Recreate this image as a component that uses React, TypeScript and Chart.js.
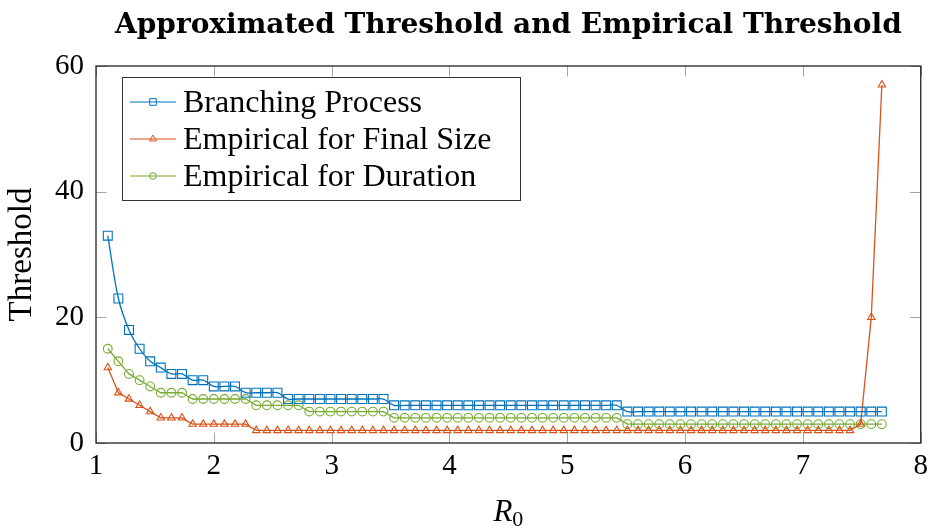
import React, { useEffect, useRef } from 'react';
import { Chart, registerables } from 'chart.js';

Chart.register(...registerables);

// R0 values (x)
const R0 = [
  1.10, 1.19, 1.28, 1.37, 1.46, 1.55, 1.64, 1.73, 1.82, 1.91,
  2.00, 2.09, 2.18, 2.27, 2.36, 2.45, 2.54, 2.63, 2.72, 2.81,
  2.90, 2.99, 3.08, 3.17, 3.26, 3.35, 3.44, 3.53, 3.62, 3.71,
  3.80, 3.89, 3.98, 4.07, 4.16, 4.25, 4.34, 4.43, 4.52, 4.61,
  4.70, 4.79, 4.88, 4.97, 5.06, 5.15, 5.24, 5.33, 5.42, 5.51,
  5.60, 5.69, 5.78, 5.87, 5.96, 6.05, 6.14, 6.23, 6.32, 6.41,
  6.50, 6.59, 6.68, 6.77, 6.86, 6.95, 7.04, 7.13, 7.22, 7.31,
  7.40, 7.49, 7.58, 7.67,
];

const branchingProcess = [
  33, 23, 18, 15, 13, 12, 11, 11, 10, 10,
  9, 9, 9, 8, 8, 8, 8, 7, 7, 7,
  7, 7, 7, 7, 7, 7, 7, 6, 6, 6,
  6, 6, 6, 6, 6, 6, 6, 6, 6, 6,
  6, 6, 6, 6, 6, 6, 6, 6, 6, 5,
  5, 5, 5, 5, 5, 5, 5, 5, 5, 5,
  5, 5, 5, 5, 5, 5, 5, 5, 5, 5,
  5, 5, 5, 5,
];

const empiricalFinalSize = [
  12, 8, 7, 6, 5, 4, 4, 4, 3, 3,
  3, 3, 3, 3, 2, 2, 2, 2, 2, 2,
  2, 2, 2, 2, 2, 2, 2, 2, 2, 2,
  2, 2, 2, 2, 2, 2, 2, 2, 2, 2,
  2, 2, 2, 2, 2, 2, 2, 2, 2, 2,
  2, 2, 2, 2, 2, 2, 2, 2, 2, 2,
  2, 2, 2, 2, 2, 2, 2, 2, 2, 2,
  2, 3, 20, 57,
];

const empiricalDuration = [
  15, 13, 11, 10, 9, 8, 8, 8, 7, 7,
  7, 7, 7, 7, 6, 6, 6, 6, 6, 5,
  5, 5, 5, 5, 5, 5, 5, 4, 4, 4,
  4, 4, 4, 4, 4, 4, 4, 4, 4, 4,
  4, 4, 4, 4, 4, 4, 4, 4, 4, 3,
  3, 3, 3, 3, 3, 3, 3, 3, 3, 3,
  3, 3, 3, 3, 3, 3, 3, 3, 3, 3,
  3, 3, 3, 3,
];

const xTicks = [1, 2, 3, 4, 5, 6, 7, 8];
const yTicks = [0, 20, 40, 60];

const seriesNames = ['Branching Process', 'Empirical for Final Size', 'Empirical for Duration'];
const TITLE = 'Approximated Threshold and Empirical Threshold';
const Y_TITLE = 'Threshold';

const BLUE = '#0072BD';
const ORANGE = '#D95319';
const GREEN = '#77AC30';
const SERIF = '"Liberation Serif", "Times New Roman", serif';

function drawMarker(ctx: CanvasRenderingContext2D, style: string, x: number, y: number, r: number) {
  ctx.beginPath();
  if (style === 'rect') {
    ctx.rect(x - r, y - r, 2 * r, 2 * r);
  } else if (style === 'triangle') {
    const h = r * 1.2;
    ctx.moveTo(x, y - h);
    ctx.lineTo(x + h * 0.866, y + h * 0.5);
    ctx.lineTo(x - h * 0.866, y + h * 0.5);
    ctx.closePath();
  } else {
    ctx.arc(x, y, r, 0, Math.PI * 2);
  }
  ctx.stroke();
}

const decorPlugin = {
  id: 'decor',
  beforeDatasetsDraw(chart: any) {
    const { ctx, chartArea: a, scales } = chart;
    ctx.save();
    ctx.strokeStyle = '#a5a5a5';
    ctx.lineWidth = 1;
    const tl = 10.5;
    xTicks.forEach((v) => {
      const px = Math.round(scales.x.getPixelForValue(v)) + 0.5;
      ctx.beginPath();
      ctx.moveTo(px, a.bottom);
      ctx.lineTo(px, a.bottom - tl);
      ctx.moveTo(px, a.top);
      ctx.lineTo(px, a.top + tl);
      ctx.stroke();
    });
    yTicks.forEach((v) => {
      const py = Math.round(scales.y.getPixelForValue(v)) + 0.5;
      ctx.beginPath();
      ctx.moveTo(a.left, py);
      ctx.lineTo(a.left + tl, py);
      ctx.moveTo(a.right, py);
      ctx.lineTo(a.right - tl, py);
      ctx.stroke();
    });
    ctx.restore();
  },
  afterDraw(chart: any) {
    const { ctx, chartArea: a } = chart;
    ctx.save();
    // frame
    ctx.strokeStyle = '#222';
    ctx.lineWidth = 1.3;
    ctx.strokeRect(a.left, a.top, a.right - a.left, a.bottom - a.top);

    // title
    ctx.fillStyle = '#000';
    ctx.font = 'bold 28px "DejaVu Serif", serif';
    ctx.textAlign = 'center';
    ctx.textBaseline = 'alphabetic';
    ctx.fillText(TITLE, (a.left + a.right) / 2, 33);

    // x axis title R_0
    const cx = (a.left + a.right) / 2;
    ctx.font = 'italic 31px ' + SERIF;
    const rW = ctx.measureText('R').width;
    ctx.font = '22px ' + SERIF;
    const zW = ctx.measureText('0').width;
    const startX = cx - (rW + zW) / 2;
    ctx.textAlign = 'left';
    ctx.font = 'italic 31px ' + SERIF;
    ctx.fillText('R', startX, 521);
    ctx.font = '22px ' + SERIF;
    ctx.fillText('0', startX + rW, 526);

    // legend
    const lx = a.left + 26;
    const ly = a.top + 11;
    const lw = 398;
    const lh = 123;
    ctx.fillStyle = '#fff';
    ctx.fillRect(lx, ly, lw, lh);
    ctx.strokeStyle = '#333';
    ctx.lineWidth = 1;
    ctx.strokeRect(lx + 0.5, ly + 0.5, lw, lh);
    const colors = [BLUE, ORANGE, GREEN];
    const styles = ['rect', 'triangle', 'circle'];
    const rows = [a.top + 36, a.top + 73, a.top + 110];
    seriesNames.forEach((name, i) => {
      const y = rows[i];
      ctx.strokeStyle = colors[i];
      ctx.lineWidth = 1.2;
      ctx.beginPath();
      ctx.moveTo(lx + 8, y);
      ctx.lineTo(lx + 54, y);
      ctx.stroke();
      ctx.lineWidth = 1;
      drawMarker(ctx, styles[i], lx + 31, y, 3.3);
      ctx.fillStyle = '#000';
      ctx.font = '32px ' + SERIF;
      ctx.textAlign = 'left';
      ctx.textBaseline = 'alphabetic';
      ctx.fillText(name, lx + 61, y + 10);
    });
    ctx.restore();
  },
};

export default function App() {
  const ref = useRef<HTMLCanvasElement | null>(null);

  useEffect(() => {
    if (!ref.current) return;
    const mk = (ys: number[]) => R0.map((x, i) => ({ x, y: ys[i] }));
    const chart = new Chart(ref.current, {
      type: 'line',
      data: {
        datasets: [
          {
            label: seriesNames[0],
            data: mk(branchingProcess),
            borderColor: BLUE,
            borderWidth: 1.3,
            tension: 0.35,
            pointStyle: 'rect',
            pointRadius: 6.3,
            pointBorderWidth: 1.1,
            pointBorderColor: BLUE,
            pointBackgroundColor: 'rgba(0,0,0,0)',
          },
          {
            label: seriesNames[1],
            data: mk(empiricalFinalSize),
            borderColor: ORANGE,
            borderWidth: 1.3,
            tension: 0,
            pointStyle: 'triangle',
            pointRadius: 4.3,
            pointBorderWidth: 1.1,
            pointBorderColor: ORANGE,
            pointBackgroundColor: 'rgba(0,0,0,0)',
          },
          {
            label: seriesNames[2],
            data: mk(empiricalDuration),
            borderColor: GREEN,
            borderWidth: 1.3,
            tension: 0,
            pointStyle: 'circle',
            pointRadius: 4.4,
            pointBorderWidth: 1.1,
            pointBorderColor: GREEN,
            pointBackgroundColor: 'rgba(0,0,0,0)',
          },
        ],
      },
      options: {
        responsive: false,
        animation: false,
        devicePixelRatio: 1,
        layout: { padding: { top: 66, right: 10, left: 0, bottom: 0 } },
        plugins: {
          legend: { display: false },
          title: { display: false },
          tooltip: { enabled: false },
        },
        scales: {
          x: {
            type: 'linear',
            min: 1,
            max: 8,
            afterFit: (s: any) => { s.height = 87; },
            afterBuildTicks: (s: any) => { s.ticks = xTicks.map((v) => ({ value: v })); },
            grid: { display: false, drawTicks: false },
            border: { display: false },
            ticks: {
              color: '#000',
              font: { family: SERIF, size: 29 },
              padding: 6,
              maxRotation: 0,
              autoSkip: false,
            },
          },
          y: {
            type: 'linear',
            min: 0,
            max: 60,
            afterFit: (s: any) => { s.width = 96; },
            afterBuildTicks: (s: any) => { s.ticks = yTicks.map((v) => ({ value: v })); },
            grid: { display: false, drawTicks: false },
            border: { display: false },
            ticks: {
              color: '#000',
              font: { family: SERIF, size: 29 },
              padding: 12,
              autoSkip: false,
            },
            title: {
              display: true,
              text: Y_TITLE,
              color: '#000',
              font: { family: SERIF, size: 33 },
              padding: { top: 3, bottom: 0 },
            },
          },
        },
      },
      plugins: [decorPlugin],
    } as any);
    return () => chart.destroy();
  }, []);

  return (
    <div style={{ position: 'fixed', left: 0, top: 0, width: 934, height: 530, background: '#fff' }}>
      <canvas ref={ref} width={934} height={530} style={{ display: 'block' }} />
    </div>
  );
}
